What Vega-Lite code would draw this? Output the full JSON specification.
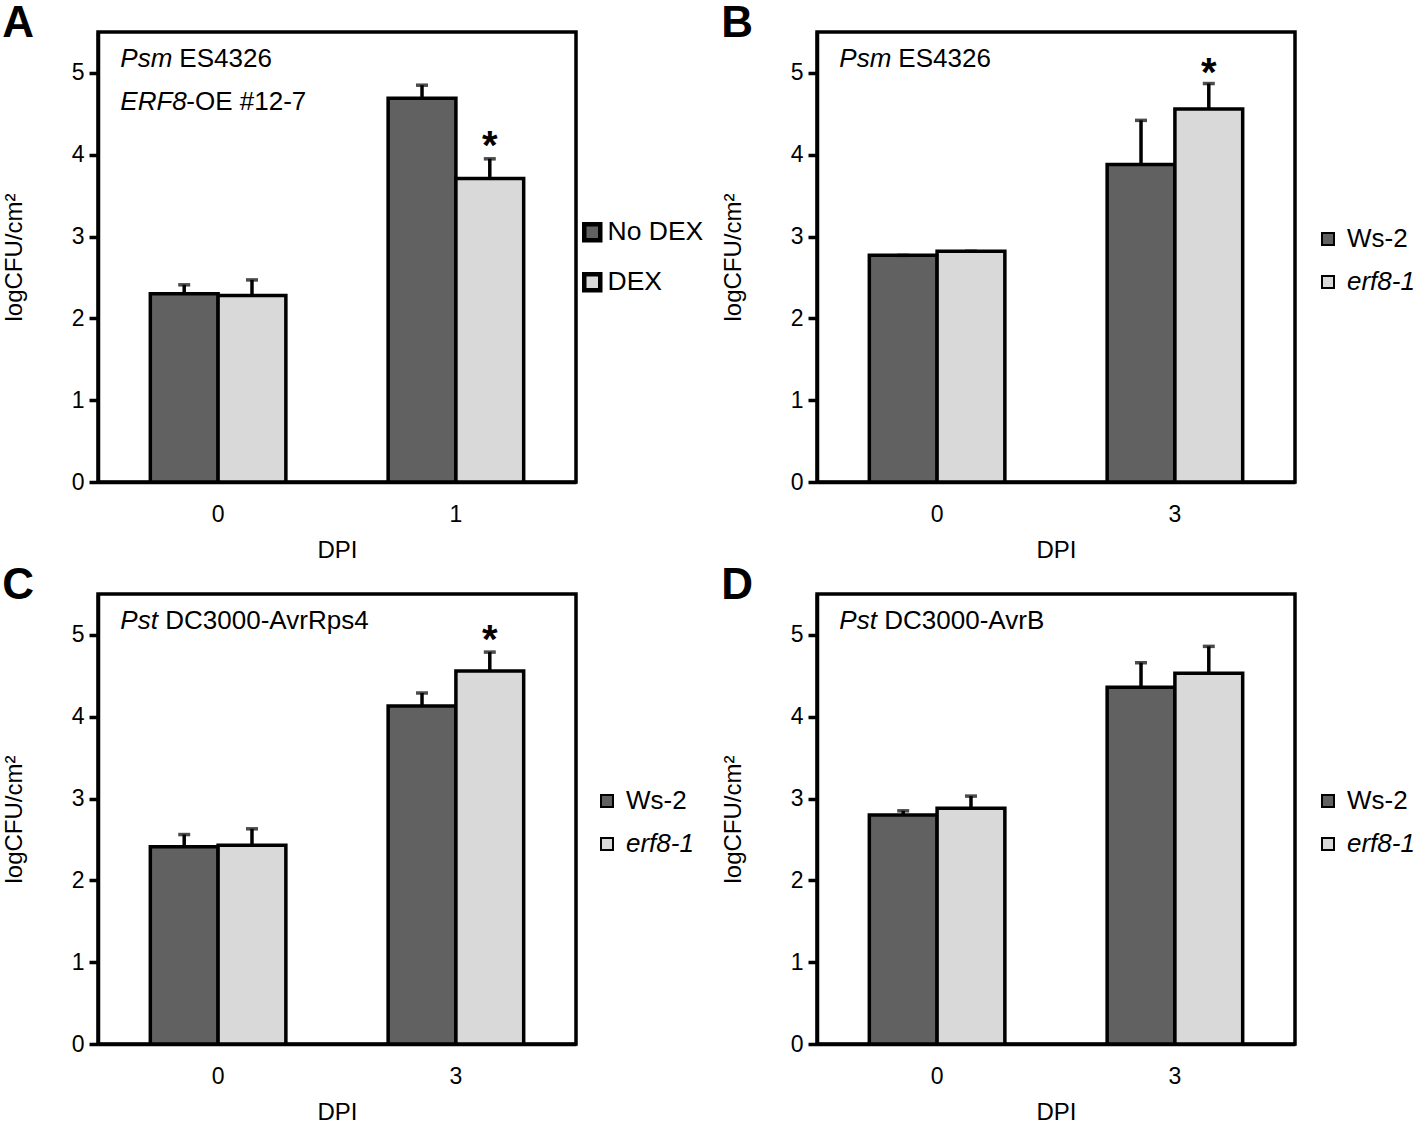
{
  "$schema": "https://vega.github.io/schema/vega-lite/v6.json",
  "padding": {"left": 0, "top": 0, "right": 0, "bottom": 0},
  "background": "white",
  "datasets": {
    "bars": [
      {"panel": "A", "dpi": "0", "group": "No DEX", "mean": 2.30, "upper": 2.41, "sig": ""},
      {"panel": "A", "dpi": "0", "group": "DEX", "mean": 2.28, "upper": 2.47, "sig": ""},
      {"panel": "A", "dpi": "1", "group": "No DEX", "mean": 4.69, "upper": 4.85, "sig": ""},
      {"panel": "A", "dpi": "1", "group": "DEX", "mean": 3.71, "upper": 3.95, "sig": "*"},
      {"panel": "B", "dpi": "0", "group": "Ws-2", "mean": 2.77, "upper": 2.77, "sig": ""},
      {"panel": "B", "dpi": "0", "group": "erf8-1", "mean": 2.82, "upper": 2.82, "sig": ""},
      {"panel": "B", "dpi": "3", "group": "Ws-2", "mean": 3.88, "upper": 4.42, "sig": ""},
      {"panel": "B", "dpi": "3", "group": "erf8-1", "mean": 4.56, "upper": 4.87, "sig": "*"},
      {"panel": "C", "dpi": "0", "group": "Ws-2", "mean": 2.41, "upper": 2.56, "sig": ""},
      {"panel": "C", "dpi": "0", "group": "erf8-1", "mean": 2.43, "upper": 2.63, "sig": ""},
      {"panel": "C", "dpi": "3", "group": "Ws-2", "mean": 4.13, "upper": 4.29, "sig": ""},
      {"panel": "C", "dpi": "3", "group": "erf8-1", "mean": 4.56, "upper": 4.79, "sig": "*"},
      {"panel": "D", "dpi": "0", "group": "Ws-2", "mean": 2.80, "upper": 2.85, "sig": ""},
      {"panel": "D", "dpi": "0", "group": "erf8-1", "mean": 2.88, "upper": 3.03, "sig": ""},
      {"panel": "D", "dpi": "3", "group": "Ws-2", "mean": 4.36, "upper": 4.66, "sig": ""},
      {"panel": "D", "dpi": "3", "group": "erf8-1", "mean": 4.53, "upper": 4.86, "sig": ""}
    ],
    "notes": [
      {"panel": "A", "line": 1, "italic": "Psm", "roman": "ES4326"},
      {"panel": "A", "line": 2, "italic": "ERF8", "roman": "-OE #12-7"},
      {"panel": "B", "line": 1, "italic": "Psm", "roman": "ES4326"},
      {"panel": "C", "line": 1, "italic": "Pst", "roman": "DC3000-AvrRps4"},
      {"panel": "D", "line": 1, "italic": "Pst", "roman": "DC3000-AvrB"}
    ]
  },
  "columns": 2,
  "spacing": {"column": 13, "row": -2},
  "resolve": {"scale": {"color": "independent", "xOffset": "independent"}, "legend": {"color": "independent"}},
  "concat": [
    {
      "title": {"text": "A"},
      "width": 478, "height": 450,
      "layer": [
        {
          "data": {"name": "bars"},
          "transform": [{"filter": "datum.panel == 'A'"}],
          "encoding": {
            "x": {"field": "dpi", "type": "nominal", "title": "DPI", "scale": {"paddingInner": 0.43, "paddingOuter": 0.22}},
            "xOffset": {"field": "group", "type": "nominal", "sort": ["No DEX", "DEX"], "scale": {"paddingInner": 0, "paddingOuter": 0}}
          },
          "layer": [
            {
              "mark": {"type": "bar", "stroke": "black", "strokeWidth": 3.5},
              "encoding": {
                "y": {"field": "mean", "type": "quantitative", "title": "logCFU/cm²", "scale": {"domain": [0, 5.5]}, "axis": {"values": [0, 1, 2, 3, 4, 5], "format": "d"}},
                "color": {"field": "group", "type": "nominal", "sort": ["No DEX", "DEX"],
                  "scale": {"range": ["#616161", "#d9d9d9"]},
                  "legend": {"orient": "none", "legendX": 481, "legendY": 187, "title": null,
                    "symbolSize": 256, "symbolStrokeWidth": 4.5, "labelOffset": 2, "rowPadding": 15, "labelFontSize": 26.5}}
              }
            },
            {"mark": {"type": "rule", "color": "black", "strokeWidth": 3.5},
             "encoding": {"y": {"field": "mean", "type": "quantitative"}, "y2": {"field": "upper"}}},
            {"mark": {"type": "tick", "color": "black", "thickness": 3.5, "size": 12, "orient": "horizontal"},
             "encoding": {"y": {"field": "upper", "type": "quantitative"}}},
            {"transform": [{"filter": "datum.sig == '*'"}],
             "mark": {"type": "text", "fontSize": 40, "fontWeight": "bold", "baseline": "alphabetic", "dy": 0},
             "encoding": {"y": {"field": "upper", "type": "quantitative"}, "text": {"field": "sig"}}}
          ]
        },
        {
          "data": {"name": "notes"},
          "transform": [{"filter": "datum.panel == 'A' && datum.line == 1"}],
          "encoding": {"x": {"datum": "0", "bandPosition": 0}, "y": {"datum": 5.17}},
          "layer": [
            {"mark": {"type": "text", "fontStyle": "italic", "align": "left", "baseline": "middle", "dx": -30}, "encoding": {"text": {"field": "italic"}}},
            {"mark": {"type": "text", "align": "left", "baseline": "middle", "dx": 29}, "encoding": {"text": {"field": "roman"}}}
          ]
        },
        {
          "data": {"name": "notes"},
          "transform": [{"filter": "datum.panel == 'A' && datum.line == 2"}],
          "encoding": {"x": {"datum": "0", "bandPosition": 0}, "y": {"datum": 4.65}},
          "layer": [
            {"mark": {"type": "text", "fontStyle": "italic", "align": "left", "baseline": "middle", "dx": -30}, "encoding": {"text": {"field": "italic"}}},
            {"mark": {"type": "text", "align": "left", "baseline": "middle", "dx": 36}, "encoding": {"text": {"field": "roman"}}}
          ]
        }
      ]
    },
    {
      "title": {"text": "B"},
      "width": 478, "height": 450,
      "layer": [
        {
          "data": {"name": "bars"},
          "transform": [{"filter": "datum.panel == 'B'"}],
          "encoding": {
            "x": {"field": "dpi", "type": "nominal", "title": "DPI", "scale": {"paddingInner": 0.43, "paddingOuter": 0.22}},
            "xOffset": {"field": "group", "type": "nominal", "sort": ["Ws-2", "erf8-1"], "scale": {"paddingInner": 0, "paddingOuter": 0}}
          },
          "layer": [
            {
              "mark": {"type": "bar", "stroke": "black", "strokeWidth": 3.5},
              "encoding": {
                "y": {"field": "mean", "type": "quantitative", "title": "logCFU/cm²", "scale": {"domain": [0, 5.5]}, "axis": {"values": [0, 1, 2, 3, 4, 5], "format": "d"}},
                "color": {"field": "group", "type": "nominal", "sort": ["Ws-2", "erf8-1"],
                  "scale": {"range": ["#616161", "#d9d9d9"]},
                  "legend": {"orient": "none", "legendX": 498, "legendY": 194, "title": null}}
              }
            },
            {"mark": {"type": "rule", "color": "black", "strokeWidth": 3.5},
             "encoding": {"y": {"field": "mean", "type": "quantitative"}, "y2": {"field": "upper"}}},
            {"mark": {"type": "tick", "color": "black", "thickness": 3.5, "size": 12, "orient": "horizontal"},
             "encoding": {"y": {"field": "upper", "type": "quantitative"}}},
            {"transform": [{"filter": "datum.sig == '*'"}],
             "mark": {"type": "text", "fontSize": 40, "fontWeight": "bold", "baseline": "alphabetic", "dy": 2},
             "encoding": {"y": {"field": "upper", "type": "quantitative"}, "text": {"field": "sig"}}}
          ]
        },
        {
          "data": {"name": "notes"},
          "transform": [{"filter": "datum.panel == 'B'"}],
          "encoding": {"x": {"datum": "0", "bandPosition": 0}, "y": {"datum": 5.17}},
          "layer": [
            {"mark": {"type": "text", "fontStyle": "italic", "align": "left", "baseline": "middle", "dx": -30}, "encoding": {"text": {"field": "italic"}}},
            {"mark": {"type": "text", "align": "left", "baseline": "middle", "dx": 29}, "encoding": {"text": {"field": "roman"}}}
          ]
        }
      ]
    },
    {
      "title": {"text": "C"},
      "width": 478, "height": 450,
      "layer": [
        {
          "data": {"name": "bars"},
          "transform": [{"filter": "datum.panel == 'C'"}],
          "encoding": {
            "x": {"field": "dpi", "type": "nominal", "title": "DPI", "scale": {"paddingInner": 0.43, "paddingOuter": 0.22}},
            "xOffset": {"field": "group", "type": "nominal", "sort": ["Ws-2", "erf8-1"], "scale": {"paddingInner": 0, "paddingOuter": 0}}
          },
          "layer": [
            {
              "mark": {"type": "bar", "stroke": "black", "strokeWidth": 3.5},
              "encoding": {
                "y": {"field": "mean", "type": "quantitative", "title": "logCFU/cm²", "scale": {"domain": [0, 5.5]}, "axis": {"values": [0, 1, 2, 3, 4, 5], "format": "d"}},
                "color": {"field": "group", "type": "nominal", "sort": ["Ws-2", "erf8-1"],
                  "scale": {"range": ["#616161", "#d9d9d9"]},
                  "legend": {"orient": "none", "legendX": 496, "legendY": 194, "title": null}}
              }
            },
            {"mark": {"type": "rule", "color": "black", "strokeWidth": 3.5},
             "encoding": {"y": {"field": "mean", "type": "quantitative"}, "y2": {"field": "upper"}}},
            {"mark": {"type": "tick", "color": "black", "thickness": 3.5, "size": 12, "orient": "horizontal"},
             "encoding": {"y": {"field": "upper", "type": "quantitative"}}},
            {"transform": [{"filter": "datum.sig == '*'"}],
             "mark": {"type": "text", "fontSize": 40, "fontWeight": "bold", "baseline": "alphabetic", "dy": 1},
             "encoding": {"y": {"field": "upper", "type": "quantitative"}, "text": {"field": "sig"}}}
          ]
        },
        {
          "data": {"name": "notes"},
          "transform": [{"filter": "datum.panel == 'C'"}],
          "encoding": {"x": {"datum": "0", "bandPosition": 0}, "y": {"datum": 5.17}},
          "layer": [
            {"mark": {"type": "text", "fontStyle": "italic", "align": "left", "baseline": "middle", "dx": -30}, "encoding": {"text": {"field": "italic"}}},
            {"mark": {"type": "text", "align": "left", "baseline": "middle", "dx": 15}, "encoding": {"text": {"field": "roman"}}}
          ]
        }
      ]
    },
    {
      "title": {"text": "D"},
      "width": 478, "height": 450,
      "layer": [
        {
          "data": {"name": "bars"},
          "transform": [{"filter": "datum.panel == 'D'"}],
          "encoding": {
            "x": {"field": "dpi", "type": "nominal", "title": "DPI", "scale": {"paddingInner": 0.43, "paddingOuter": 0.22}},
            "xOffset": {"field": "group", "type": "nominal", "sort": ["Ws-2", "erf8-1"], "scale": {"paddingInner": 0, "paddingOuter": 0}}
          },
          "layer": [
            {
              "mark": {"type": "bar", "stroke": "black", "strokeWidth": 3.5},
              "encoding": {
                "y": {"field": "mean", "type": "quantitative", "title": "logCFU/cm²", "scale": {"domain": [0, 5.5]}, "axis": {"values": [0, 1, 2, 3, 4, 5], "format": "d"}},
                "color": {"field": "group", "type": "nominal", "sort": ["Ws-2", "erf8-1"],
                  "scale": {"range": ["#616161", "#d9d9d9"]},
                  "legend": {"orient": "none", "legendX": 498, "legendY": 194, "title": null}}
              }
            },
            {"mark": {"type": "rule", "color": "black", "strokeWidth": 3.5},
             "encoding": {"y": {"field": "mean", "type": "quantitative"}, "y2": {"field": "upper"}}},
            {"mark": {"type": "tick", "color": "black", "thickness": 3.5, "size": 12, "orient": "horizontal"},
             "encoding": {"y": {"field": "upper", "type": "quantitative"}}},
            {"transform": [{"filter": "datum.sig == '*'"}],
             "mark": {"type": "text", "fontSize": 40, "fontWeight": "bold", "baseline": "alphabetic", "dy": 1},
             "encoding": {"y": {"field": "upper", "type": "quantitative"}, "text": {"field": "sig"}}}
          ]
        },
        {
          "data": {"name": "notes"},
          "transform": [{"filter": "datum.panel == 'D'"}],
          "encoding": {"x": {"datum": "0", "bandPosition": 0}, "y": {"datum": 5.17}},
          "layer": [
            {"mark": {"type": "text", "fontStyle": "italic", "align": "left", "baseline": "middle", "dx": -30}, "encoding": {"text": {"field": "italic"}}},
            {"mark": {"type": "text", "align": "left", "baseline": "middle", "dx": 15}, "encoding": {"text": {"field": "roman"}}}
          ]
        }
      ]
    }
  ],
  "config": {
    "font": "Liberation Sans",
    "view": {"stroke": "black", "strokeWidth": 3.5},
    "title": {"anchor": "start", "frame": "bounds", "fontSize": 44, "fontWeight": "bold", "font": "Liberation Sans", "baseline": "alphabetic", "offset": -14, "color": "black"},
    "text": {"font": "Liberation Sans", "fontSize": 26, "color": "black"},
    "axisX": {"ticks": false, "domainColor": "black", "domainWidth": 3.5, "labelFontSize": 23, "labelColor": "black", "labelPadding": 21, "labelAngle": 0, "titleFontSize": 24, "titleFontWeight": "normal", "titleColor": "black", "titlePadding": 12, "labelFont": "Liberation Sans", "titleFont": "Liberation Sans"},
    "axisY": {"domainColor": "black", "domainWidth": 3.5, "tickColor": "black", "tickWidth": 3.5, "tickSize": 9, "labelFontSize": 23, "labelColor": "black", "labelPadding": 5, "titleFontSize": 24, "titleFontWeight": "normal", "titleColor": "black", "titlePadding": 45, "grid": false, "labelFont": "Liberation Sans", "titleFont": "Liberation Sans"},
    "legend": {"symbolType": "square", "symbolSize": 144, "symbolStrokeColor": "black", "symbolStrokeWidth": 2, "labelFontSize": 26, "labelColor": "black", "labelOffset": 6, "rowPadding": 17, "labelFont": "Liberation Sans", "padding": 0,
      "labelFontStyle": {"expr": "datum.value == 'erf8-1' ? 'italic' : 'normal'"}}
  }
}
